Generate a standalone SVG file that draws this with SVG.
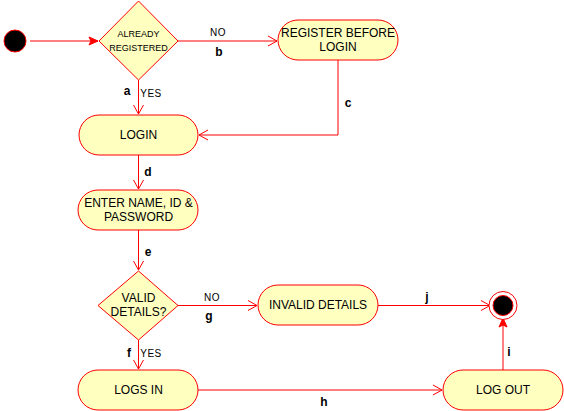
<svg xmlns="http://www.w3.org/2000/svg" width="564" height="411" viewBox="0 0 564 411">
<defs>
<style>
.box{fill:#FFFFC0;stroke:#FF0000;stroke-width:1}
.ln{fill:none;stroke:#FF0000;stroke-width:1}
.t{font-family:"Liberation Sans",Arial,sans-serif;font-size:12px;fill:#000;text-anchor:middle}
.s{font-family:"Liberation Sans",Arial,sans-serif;font-size:9px;fill:#000;text-anchor:middle}
.lb{font-family:"Liberation Sans",Arial,sans-serif;font-size:12px;font-weight:bold;fill:#000;text-anchor:middle}
.ny{font-family:"Liberation Sans",Arial,sans-serif;font-size:10px;fill:#000;text-anchor:middle;letter-spacing:0.5px}
</style>
<marker id="open" markerWidth="12" markerHeight="12" refX="10" refY="6" orient="auto" markerUnits="userSpaceOnUse">
<path d="M1,1 L10,6 L1,11" fill="none" stroke="#FF0000" stroke-width="1"/>
</marker>
<marker id="fill" markerWidth="12" markerHeight="12" refX="10" refY="6" orient="auto" markerUnits="userSpaceOnUse">
<path d="M1,2 L10,6 L1,10 L3,6 Z" fill="#FF0000" stroke="#FF0000" stroke-width="1"/>
</marker>
</defs>
<rect width="564" height="411" fill="#fff"/>
<g id="connectors">
<line class="ln" x1="30" y1="41" x2="98" y2="41" marker-end="url(#fill)"/>
<line class="ln" x1="178" y1="41" x2="277" y2="41" marker-end="url(#open)"/>
<polyline class="ln" points="338,60 338,135 199,135" marker-end="url(#open)"/>
<line class="ln" x1="138.5" y1="80" x2="138.5" y2="114" marker-end="url(#open)"/>
<line class="ln" x1="138.5" y1="155" x2="138.5" y2="189" marker-end="url(#open)"/>
<line class="ln" x1="138.5" y1="230" x2="138.5" y2="270" marker-end="url(#open)"/>
<line class="ln" x1="178" y1="305.5" x2="257" y2="305.5" marker-end="url(#open)"/>
<line class="ln" x1="378" y1="305.5" x2="490" y2="305.5" marker-end="url(#open)"/>
<line class="ln" x1="138.5" y1="340" x2="138.5" y2="369" marker-end="url(#open)"/>
<line class="ln" x1="198" y1="390" x2="442" y2="390" marker-end="url(#open)"/>
<line class="ln" x1="503" y1="370" x2="503" y2="318" marker-end="url(#fill)"/>
<text class="ny" x="218" y="36">NO</text>
<text class="lb" x="219" y="56">b</text>
<text class="lb" x="348" y="107">c</text>
<text class="lb" x="127" y="95">a</text>
<text class="ny" x="151" y="97">YES</text>
<text class="lb" x="148" y="176">d</text>
<text class="lb" x="148" y="256">e</text>
<text class="ny" x="212" y="301">NO</text>
<text class="lb" x="209" y="320">g</text>
<text class="lb" x="129" y="357">f</text>
<text class="ny" x="151" y="357">YES</text>
<text class="lb" x="324" y="406">h</text>
<text class="lb" x="427" y="301">j</text>
<text class="lb" x="509" y="356">i</text>
</g>
<g id="start"><circle cx="15" cy="41" r="11" fill="#000" stroke="#FF0000"/></g>
<g id="already-registered">
<polygon class="box" points="138.5,1 178,41 138.5,80 99,41"/>
<text class="s" x="138.5" y="37">ALREADY</text>
<text class="s" x="138.5" y="51">REGISTERED</text>
</g>
<g id="register">
<rect class="box" x="278" y="20" width="120" height="40" rx="20" ry="20"/>
<text class="t" x="338" y="37">REGISTER BEFORE</text>
<text class="t" x="338" y="51">LOGIN</text>
</g>
<g id="login">
<rect class="box" x="79" y="115" width="119" height="40" rx="20" ry="20"/>
<text class="t" x="138.5" y="139">LOGIN</text>
</g>
<g id="enter">
<rect class="box" x="78" y="190" width="120" height="40" rx="20" ry="20"/>
<text class="t" x="138.5" y="207">ENTER NAME, ID &amp;</text>
<text class="t" x="138.5" y="221">PASSWORD</text>
</g>
<g id="valid">
<polygon class="box" points="138.5,271 178,305.5 138.5,340 98,305.5"/>
<text class="t" x="138.5" y="302">VALID</text>
<text class="t" x="138.5" y="316">DETAILS?</text>
</g>
<g id="invalid">
<rect class="box" x="258" y="285" width="120" height="40" rx="20" ry="20"/>
<text class="t" x="318" y="309">INVALID DETAILS</text>
</g>
<g id="logsin">
<rect class="box" x="78" y="370" width="120" height="40" rx="20" ry="20"/>
<text class="t" x="138.5" y="394">LOGS IN</text>
</g>
<g id="logout">
<rect class="box" x="443" y="370" width="120" height="40" rx="20" ry="20"/>
<text class="t" x="503" y="394">LOG OUT</text>
</g>
<g id="end">
<circle cx="503" cy="305.5" r="14" fill="#fff" stroke="#FF0000"/>
<circle cx="503" cy="305.5" r="10" fill="#000" stroke="#FF0000"/>
</g>
</svg>
